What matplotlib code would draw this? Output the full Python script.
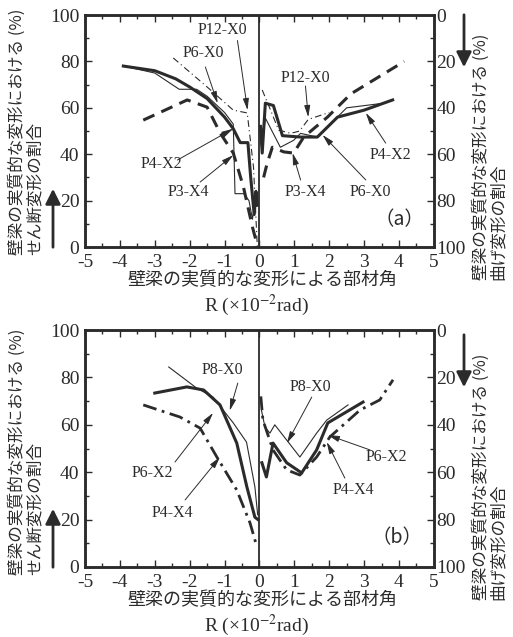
import numpy as np
import matplotlib
matplotlib.use("Agg")
import matplotlib.pyplot as plt
from matplotlib.ticker import MultipleLocator
from matplotlib.patches import FancyArrowPatch

plt.rcParams['font.family'] = ['Liberation Serif', 'Noto Sans CJK JP']
plt.rcParams['mathtext.fontset'] = 'stix'
plt.rcParams['axes.unicode_minus'] = False

INK = '#2b2b2b'
JP = ['Noto Sans CJK JP', 'DejaVu Sans']

# ---- (a) negative / positive loading branches ----
a_p4x2_neg_r = [-3.9, -3.0, -2.4, -2.0, -1.5, -1.0, -0.75, -0.55, -0.33, -0.25, -0.2, -0.15, -0.1, -0.06]
a_p4x2_neg_v = [78, 76, 72.5, 69, 64, 56, 51, 45, 45, 30, 22, 14, 24, 18]
a_p4x2_pos_r = [0.03, 0.08, 0.17, 0.4, 0.66, 1.18, 1.66, 2.24, 3.0, 3.82]
a_p4x2_pos_v = [52, 40.5, 62, 61, 48, 47.4, 47.4, 56, 59, 63.4]

a_p6x0_neg_r = [-3.9, -3.0, -2.3, -1.8, -1.5, -1.0, -0.75, -0.7, -0.45, -0.3, -0.2, -0.1]
a_p6x0_neg_v = [78, 75, 68, 68, 65, 58, 53, 23, 23, 20, 12, 22]
a_p6x0_pos_r = [0.05, 0.1, 0.17, 0.6, 0.98, 1.18, 1.66, 2.5, 3.56]
a_p6x0_pos_v = [44, 47, 55.6, 43, 46, 49, 47.4, 60, 62]

a_p3x4_neg_r = [-3.33, -2.07, -1.5, -1.12, -0.75, -0.46, -0.2, -0.11, -0.09]
a_p3x4_neg_v = [54.7, 63.4, 60.3, 49, 40.5, 26, 8.6, 3.5, 0]
a_p3x4_pos_r = [0.12, 0.22, 0.37, 0.7, 0.98, 1.27, 1.95, 2.62, 4.15]
a_p3x4_pos_v = [30, 36, 43, 41, 40.5, 47.4, 56, 66, 80]

a_p12x0_neg_r = [-2.47, -1.5, -0.75, -0.35, -0.17, -0.06]
a_p12x0_neg_v = [81.5, 69, 59, 57.8, 34.5, 0]
a_p12x0_pos_r = [0.08, 0.32, 0.55, 0.9, 1.15, 1.4, 2.0]
a_p12x0_pos_v = [67.7, 59, 50.4, 49, 50, 55, 58]

# ---- (b) ----
b_p6x2_neg_r = [-3.0, -2.08, -1.6, -1.13, -0.65, -0.36, -0.13, -0.04]
b_p6x2_neg_v = [73.4, 76, 74.7, 68.4, 52.3, 33.8, 21, 20]
b_p6x2_pos_r = [0.07, 0.2, 0.39, 0.78, 1.21, 1.64, 1.96, 2.97]
b_p6x2_pos_v = [44, 38, 52.3, 44, 39.7, 49.4, 60.8, 69.6]

b_p8x0_neg_r = [-2.6, -1.8, -1.33, -0.75, -0.37, -0.13, -0.05]
b_p8x0_neg_v = [84.4, 75.5, 71.7, 60.8, 52.7, 33.8, 22]
b_p8x0_pos_r = [0.06, 0.16, 0.3, 0.44, 0.78, 1.16, 1.64, 1.93, 2.54]
b_p8x0_pos_v = [66, 59, 56.5, 60, 53.6, 46.4, 56.5, 62, 68.4]

b_p4x4_neg_r = [-3.33, -2.28, -1.7, -1.22, -0.65, -0.27, -0.07]
b_p4x4_neg_v = [68.4, 63.3, 58.6, 46.4, 32.5, 18.6, 8.4]
b_p4x4_pos_r = [0.04, 0.1, 0.39, 0.78, 1.16, 1.64, 2.02, 2.88, 3.45, 3.83]
b_p4x4_pos_v = [72, 62, 49.4, 41, 38.8, 46.4, 54.9, 66.2, 70.5, 79]

# label text, text position, arrow tail, arrow tip
a_notes = [
    ("P12-X0", (-1.06, 93.5), (-0.63, 89), (-0.34, 59)),
    ("P6-X0", (-1.6, 83.6), (-1.55, 77.6), (-1.2, 62)),
    ("P4-X2", (-2.8, 36), (-2.35, 37.5), (-0.75, 51)),
    ("P3-X4", (-2.05, 23.7), (-1.7, 28), (-0.75, 39.6)),
    ("P12-X0", (1.32, 73), (1.32, 69.4), (1.4, 56)),
    ("P4-X2", (3.76, 39.7), (3.62, 44.8), (3.05, 57.8)),
    ("P3-X4", (1.32, 23.7), (1.18, 28.9), (0.95, 40.5)),
    ("P6-X0", (3.19, 23.7), (3.05, 28.9), (1.81, 48.3)),
]
b_notes = [
    ("P8-X0", (-1.05, 83), (-0.62, 77.6), (-0.85, 66)),
    ("P6-X2", (-3.08, 39.7), (-2.42, 44.3), (-1.33, 65)),
    ("P4-X4", (-2.5, 22.8), (-2.13, 28.3), (-1.13, 46.4)),
    ("P8-X0", (1.45, 76), (1.5, 71.7), (0.79, 52.3)),
    ("P6-X2", (3.65, 46.4), (3.17, 49.4), (1.96, 55.7)),
    ("P4-X4", (2.68, 32.5), (2.45, 37.5), (1.93, 52.7)),
]

thick = dict(color=INK, lw=2.2, ls='-')
thin = dict(color=INK, lw=0.8, ls='-')
dashed = dict(color=INK, lw=2.2, ls=(0, (4, 2.5)))
dashdot_thin = dict(color=INK, lw=0.8, ls=(0, (6, 3, 1, 3)))
dashdot_thick = dict(color=INK, lw=2.0, ls=(0, (5, 2, 1, 2)))

fig = plt.figure(figsize=(5.13, 6.37), dpi=100)
ax_a = fig.add_axes([0.1657, 0.6122, 0.680, 0.3642])
ax_b = fig.add_axes([0.1657, 0.1099, 0.680, 0.372])


def setup(ax):
    ax.set_xlim(-5, 5)
    ax.set_ylim(0, 100)
    ax.axvline(0, color=INK, lw=1.3)
    ax.xaxis.set_major_locator(MultipleLocator(1))
    ax.xaxis.set_minor_locator(MultipleLocator(0.5))
    ax.yaxis.set_major_locator(MultipleLocator(20))
    ax.yaxis.set_minor_locator(MultipleLocator(10))
    ax.tick_params(which='both', direction='in', top=True, right=False,
                   colors=INK, width=1.0, labelsize=14)
    ax.tick_params(axis='x', pad=5)
    ax.tick_params(axis='y', pad=4)
    ax.tick_params(which='major', length=5)
    ax.tick_params(which='minor', length=3)
    for s in ax.spines.values():
        s.set_linewidth(1.8)
        s.set_color(INK)
    r = ax.twinx()
    r.set_ylim(100, 0)
    r.yaxis.set_major_locator(MultipleLocator(20))
    r.yaxis.set_minor_locator(MultipleLocator(10))
    r.tick_params(which='both', direction='in', colors=INK, width=1.0,
                  labelsize=14, pad=2)
    r.tick_params(which='major', length=5)
    r.tick_params(which='minor', length=3)
    for s in r.spines.values():
        s.set_linewidth(1.8)
        s.set_color(INK)


def note(ax, items):
    for txt, pos, tail, tip in items:
        ax.annotate('', xy=tip, xytext=tail,
                    arrowprops=dict(arrowstyle='-|>,head_length=0.7,head_width=0.18',
                                    color=INK, lw=0.7, shrinkA=0, shrinkB=0))
        ax.text(pos[0], pos[1], txt, ha='center', va='center', fontsize=11.5,
                color=INK)


setup(ax_a)
ax_a.plot(a_p4x2_neg_r, a_p4x2_neg_v, **thick)
ax_a.plot(a_p4x2_pos_r, a_p4x2_pos_v, **thick)
ax_a.plot(a_p6x0_neg_r, a_p6x0_neg_v, **thin)
ax_a.plot(a_p6x0_pos_r, a_p6x0_pos_v, **thin)
ax_a.plot(a_p3x4_neg_r, a_p3x4_neg_v, **dashed)
ax_a.plot(a_p3x4_pos_r, a_p3x4_pos_v, **dashed)
ax_a.plot(a_p12x0_neg_r, a_p12x0_neg_v, **dashdot_thin)
ax_a.plot(a_p12x0_pos_r, a_p12x0_pos_v, **dashdot_thin)
note(ax_a, a_notes)
ax_a.text(4.0, 11.6, '（a）', family=JP, fontsize=14, ha='center',
          va='center', color=INK)

setup(ax_b)
ax_b.plot(b_p6x2_neg_r, b_p6x2_neg_v, **thick)
ax_b.plot(b_p6x2_pos_r, b_p6x2_pos_v, **thick)
ax_b.plot(b_p8x0_neg_r, b_p8x0_neg_v, **thin)
ax_b.plot(b_p8x0_pos_r, b_p8x0_pos_v, **thin)
ax_b.plot(b_p4x4_neg_r, b_p4x4_neg_v, **dashdot_thick)
ax_b.plot(b_p4x4_pos_r, b_p4x4_pos_v, **dashdot_thick)
note(ax_b, b_notes)
ax_b.text(3.94, 12.2, '（b）', family=JP, fontsize=14, ha='center',
          va='center', color=INK)

W, H = 513.0, 637.0


def fx(px):
    return px / W


def fy(py):
    return 1 - py / H


xlabel = '壁梁の実質的な変形による部材角'
rlabel = r'R (×10$^{-2}$rad)'
left_lab = '壁梁の実質的な変形における (%)\nせん断変形の割合'
right_lab = '壁梁の実質的な変形における (%)\n曲げ変形の割合'

for dy in (0, 320):
    fig.text(fx(262), fy(280 + dy), xlabel, family=JP, fontsize=13,
             ha='center', va='center', color=INK)
    fig.text(fx(256), fy(305 + dy), rlabel, fontsize=14, ha='center',
             va='center', color=INK)
    fig.text(fx(26), fy(255 + dy), left_lab, family=JP, fontsize=12,
             rotation=90, ha='center', va='bottom', multialignment='left',
             linespacing=1.0, color=INK)
    fig.text(fx(490), fy(280 + dy), right_lab, family=JP, fontsize=12,
             rotation=90, ha='center', va='bottom', multialignment='left',
             linespacing=1.0, color=INK)
    # direction arrows beside the vertical labels
    fig.patches.append(FancyArrowPatch(
        (fx(53), fy(250 + dy)), (fx(53), fy(186 + dy)),
        transform=fig.transFigure, arrowstyle='-|>,head_length=6,head_width=3',
        color=INK, lw=2.0, mutation_scale=1.5))
    fig.patches.append(FancyArrowPatch(
        (fx(464), fy(12 + dy)), (fx(464), fy(70 + dy)),
        transform=fig.transFigure, arrowstyle='-|>,head_length=6,head_width=3',
        color=INK, lw=2.0, mutation_scale=1.5))

fig.savefig('out.png', dpi=100)
